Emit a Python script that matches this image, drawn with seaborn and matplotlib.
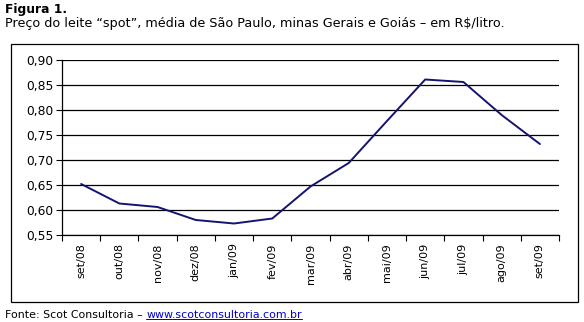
import matplotlib
matplotlib.use('Agg')
import matplotlib.pyplot as plt
import seaborn as sns
import pandas as pd
from matplotlib.patches import Rectangle
from matplotlib.lines import Line2D

#=======
# DADOS
#=======
meses = ['set/08', 'out/08', 'nov/08', 'dez/08', 'jan/09', 'fev/09', 'mar/09',
         'abr/09', 'mai/09', 'jun/09', 'jul/09', 'ago/09', 'set/09']
preco = [0.652, 0.613, 0.606, 0.580, 0.573, 0.583, 0.647,
         0.694, 0.778, 0.861, 0.856, 0.790, 0.732]
y_ticks = [0.55, 0.60, 0.65, 0.70, 0.75, 0.80, 0.85, 0.90]

df = pd.DataFrame({'mes': meses, 'preco': preco, 'pos': range(len(meses))})

sns.set_style('white')
plt.rcParams['font.family'] = ['DejaVu Sans']
plt.rcParams['text.color'] = 'black'
plt.rcParams['xtick.color'] = 'black'
plt.rcParams['ytick.color'] = 'black'

W, H = 584, 322
fig = plt.figure(figsize=(W / 100, H / 100), dpi=100)
ax = fig.add_axes([62 / W, 1 - 235 / H, (559 - 62) / W, (235 - 60) / H])

sns.lineplot(data=df, x='pos', y='preco', ax=ax, color='#14146e', linewidth=1.4)

ax.set_xlim(-0.5, len(meses) - 0.5)
ax.set_ylim(0.55, 0.90)
ax.set_yticks(y_ticks)
ax.set_yticklabels([f'{v:.2f}'.replace('.', ',') for v in y_ticks], fontsize=8.8)
ax.yaxis.grid(True, color='black', linewidth=0.9)
ax.set_axisbelow(True)

# ticks nas bordas das categorias, rotulos no centro
ax.set_xticks([i - 0.5 for i in range(len(meses) + 1)])
ax.set_xticklabels([])
ax.set_xticks(range(len(meses)), minor=True)
ax.set_xticklabels(meses, minor=True, rotation=90, fontsize=8)
ax.tick_params(axis='x', which='major', direction='out', length=4, width=0.8, color='black', bottom=True)
ax.tick_params(axis='x', which='minor', length=0, pad=6)
ax.tick_params(axis='y', direction='out', length=4, width=0.8, color='black', left=True, pad=2)
ax.set_xlabel('')
ax.set_ylabel('')

for s in ['top', 'right']:
    ax.spines[s].set_visible(False)
for s in ['left', 'bottom']:
    ax.spines[s].set_color('black')
    ax.spines[s].set_linewidth(0.9)

# moldura externa
fig.patches.append(Rectangle((11 / W, 1 - 302 / H), (578 - 11) / W, (302 - 44) / H,
                             transform=fig.transFigure, fill=False,
                             edgecolor='black', linewidth=0.9))

# titulos
fig.text(5 / W, 1 - 9 / H, 'Figura 1.', fontsize=8.8, fontweight='bold', va='center')
fig.text(5 / W, 1 - 24 / H,
         'Preço do leite \u201cspot\u201d, média de São Paulo, minas Gerais e Goiás \u2013 em R$/litro.',
         fontsize=9.2, va='center')

# rodape
t1 = fig.text(5 / W, 1 - 315 / H, 'Fonte: Scot Consultoria \u2013 ', fontsize=7.9, va='center')
fig.canvas.draw()
r = fig.canvas.get_renderer()
bb = t1.get_window_extent(renderer=r)
x_link = bb.x1 / W
t2 = fig.text(x_link, 1 - 315 / H, 'www.scotconsultoria.com.br', fontsize=7.9,
              va='center', color='#0000cc')
bb2 = t2.get_window_extent(renderer=r)
fig.lines.append(Line2D([bb2.x0 / W, bb2.x1 / W], [bb2.y0 / H + 1 / H, bb2.y0 / H + 1 / H],
                        transform=fig.transFigure, color='#0000cc', linewidth=0.7))

plt.savefig('out.png', dpi=100)
